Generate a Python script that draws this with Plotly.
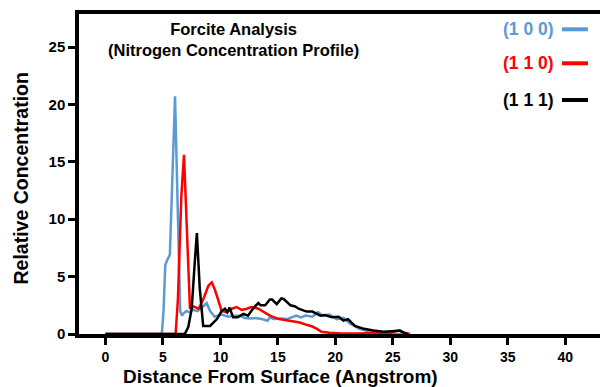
import plotly.graph_objects as go

# ---- data ----
x_100 = [0, 4.9, 5.05, 5.2, 5.4, 5.6, 6.05, 6.5, 6.65, 6.8, 7.05, 7.3, 7.6, 8.0, 8.4, 8.8, 9.1, 9.5,
         10.1, 10.7, 11.2, 11.7, 12.1, 12.6, 13.0, 13.6, 14.1, 14.3, 14.6, 15.2, 15.8, 16.6, 17.0, 17.4,
         18.0, 18.5, 18.9, 19.5, 20.1, 20.7, 21.3, 21.7, 22.1, 22.6, 23.2, 24.0, 26.0]
y_100 = [0, 0, 2.0, 6.0, 6.5, 6.9, 20.7, 2.0, 1.6, 1.8, 2.0, 1.9, 2.1, 2.0, 2.3, 2.7, 2.0, 1.5,
         1.7, 1.5, 1.6, 1.6, 1.4, 1.35, 1.4, 1.3, 1.15, 1.45, 1.3, 1.35, 1.3, 1.6, 1.45, 1.6,
         1.5, 1.9, 1.6, 1.7, 1.3, 1.4, 0.9, 0.7, 0.45, 0.3, 0.15, 0.05, 0]

x_110 = [0, 6.1, 6.3, 6.6, 6.83, 7.1, 7.35, 7.65, 8.1, 8.5, 8.95, 9.25, 9.5, 9.8, 10.1, 10.55, 11.0,
         11.4, 11.85, 12.3, 12.7, 13.3, 13.9, 14.3, 15.1, 16.0, 16.9, 17.5, 18.0, 18.4, 18.8, 19.5,
         20.5, 22.0, 24.0, 24.8, 25.3, 25.6, 26.0, 26.5]
y_110 = [0, 0, 3.0, 12.0, 15.6, 8.0, 2.2, 2.4, 2.2, 3.0, 4.2, 4.5, 3.9, 3.0, 2.0, 1.9, 2.2,
         2.35, 2.1, 2.2, 2.35, 2.2, 1.8, 1.6, 1.3, 1.15, 1.0, 0.8, 0.65, 0.45, 0.2, 0.1,
         0.05, 0.05, 0.05, 0.1, 0.25, 0.3, 0.1, 0]

x_111 = [0, 6.9, 7.2, 7.5, 7.75, 7.95, 8.2, 8.5, 9.1, 9.7, 10.1, 10.4, 10.6, 10.8, 11.1, 11.5, 12.0,
         12.4, 12.9, 13.3, 13.5, 13.9, 14.3, 14.5, 14.9, 15.3, 15.5, 15.8, 16.1, 16.5, 16.8, 17.5,
         18.0, 18.7, 19.1, 19.7, 20.3, 20.7, 21.1, 21.7, 22.5, 23.3, 24.2, 24.9, 25.6, 26.0, 26.3]
y_111 = [0, 0, 0.6, 2.2, 6.0, 8.8, 4.0, 0.7, 0.7, 1.3, 2.0, 2.2, 1.9, 2.3, 1.45, 1.45, 1.75,
         1.6, 2.3, 2.7, 2.5, 2.5, 3.0, 3.0, 2.6, 3.1, 3.05, 2.75, 2.5, 2.4, 2.2, 1.95,
         1.95, 1.6, 1.65, 1.45, 1.5, 1.16, 1.3, 0.7, 0.45, 0.3, 0.2, 0.25, 0.3, 0.1, 0]

series_names = ["(1 0 0)", "(1 1 0)", "(1 1 1)"]
series_colors = ["#5B9BD5", "#FF0000", "#000000"]
x_ticks = [0, 5, 10, 15, 20, 25, 30, 35, 40]
y_ticks = [0, 5, 10, 15, 20, 25]

FONT = "Liberation Sans, Arial, sans-serif"

fig = go.Figure()
for xs, ys, name, col in zip([x_100, x_110, x_111], [y_100, y_110, y_111], series_names, series_colors):
    fig.add_trace(go.Scatter(x=xs, y=ys, mode="lines", name=name,
                             line=dict(color=col, width=2.5), showlegend=False))

L, T, B = 79, 14, 53
W, H = 600, 387
pw = W - L
ph = H - T - B

def px(xp):
    return (xp - L) / pw

def py(yp):
    return (H - B - yp) / ph

annotations = [
    dict(text="<b>Forcite Analysis</b><br><b>(Nitrogen Concentration Profile)</b>",
         x=px(233), y=py(39.5), xref="paper", yref="paper", align="center",
         showarrow=False, font=dict(family=FONT, size=16.5, color="#000"), xanchor="center", yanchor="middle"),
    dict(text="<b>Distance From Surface (Angstrom)</b>", x=px(280), y=py(376.5), xref="paper", yref="paper",
         showarrow=False, font=dict(family=FONT, size=19, color="#000"), xanchor="center", yanchor="middle"),
    dict(text="<b>Relative Concentration</b>", x=px(20), y=py(178.5), xref="paper", yref="paper",
         textangle=-90, showarrow=False, font=dict(family=FONT, size=19.5, color="#000"),
         xanchor="center", yanchor="middle"),
]
shapes = []
for name, col, yc in zip(series_names, series_colors, [29.3, 63.3, 100]):
    annotations.append(dict(text="<b>" + name + "</b>", x=px(556), y=py(yc), xref="paper", yref="paper",
                            showarrow=False, font=dict(family=FONT, size=17.5, color=col),
                            xanchor="right", yanchor="middle"))
    shapes.append(dict(type="line", xref="paper", yref="paper", x0=px(562), x1=px(588),
                       y0=py(yc), y1=py(yc), line=dict(color=col, width=4)))

fig.update_layout(
    width=W, height=H,
    margin=dict(l=L, r=0, t=T, b=B, pad=0),
    paper_bgcolor="white", plot_bgcolor="white",
    font=dict(family=FONT, color="#000"),
    annotations=annotations, shapes=shapes,
    xaxis=dict(range=[(L - 105.5) / 11.4925, (W - 105.5) / 11.4925],
               tickvals=x_ticks, ticktext=["<b>%d</b>" % v for v in x_ticks],
               ticks="outside", ticklen=7, tickwidth=3, tickcolor="#000",
               showline=True, linecolor="#000", linewidth=3.5, mirror=True,
               showgrid=False, zeroline=False, tickfont=dict(size=14, family=FONT)),
    yaxis=dict(range=[0, ph / 11.48],
               tickvals=y_ticks, ticktext=["<b>%d</b>" % v for v in y_ticks],
               ticks="outside", ticklen=7, tickwidth=3, tickcolor="#000",
               showline=True, linecolor="#000", linewidth=3.5, mirror=False,
               showgrid=False, zeroline=False, tickfont=dict(size=15, family=FONT)),
)

fig.write_html("out.html")
